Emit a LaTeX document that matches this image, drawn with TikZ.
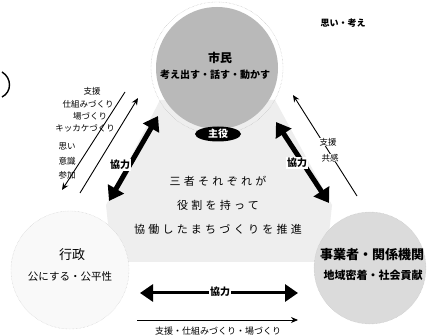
\documentclass[tikz,border=0pt]{standalone}
\usepackage{fontspec}
\newfontfamily\jp{Noto Sans CJK JP}
\newfontfamily\jpsp[LetterSpace=30]{Noto Sans CJK JP}
\usetikzlibrary{arrows.meta,shapes.geometric}
\begin{document}
\begin{tikzpicture}[x=1pt,y=-1pt,font=\jp,
  bigarrow/.style={line width=5pt,{Triangle[width=18pt,length=14pt]}-{Triangle[width=18pt,length=14pt]}},
  flatarrow/.style={line width=3pt,{Triangle[width=17pt,length=13pt]}-{Triangle[width=17pt,length=13pt]}},
  thinarrow/.style={line width=0.9pt,-{Stealth[width=6pt,length=7pt]}},
  small/.style={font=\jp\fontsize{8.5}{9}\selectfont,inner sep=0.5pt},
  coop/.style={font=\jp\bfseries\fontsize{10}{11}\selectfont,inner sep=1pt,fill=white},
  center/.style={font=\jpsp\fontsize{11}{12}\selectfont,inner sep=1pt}]
\useasboundingbox (0,0) rectangle (428,336);
\fill[white] (0,0) rectangle (428,336);
% shaded central region
\fill[gray!13] (160,100) -- (275,100) -- (332,205) -- (326,262) -- (112,262) -- (106,205) -- cycle;
% circles
\node[circle,draw=gray!60,densely dotted,minimum size=132pt] (shimring) at (217,68) {};
\node[circle,fill=gray!55,minimum size=122pt] (shimin) at (217,68) {};
\node[circle,draw=gray!45,densely dotted,fill=gray!5,minimum size=118pt] (gyosei) at (70,270) {};
\node[circle,draw=gray!50,densely dotted,fill=gray!28,minimum size=112pt] (jigyo) at (370,268) {};
% circle texts
\node[font=\jp\bfseries\fontsize{12}{13}\selectfont] (t1) at (220,58) {市民};
\node[font=\jp\bfseries\fontsize{10}{11}\selectfont] (t2) at (215,75) {考え出す・話す・動かす};
\node[ellipse,fill=black,minimum width=46pt,minimum height=15pt,inner sep=0pt,text=white,font=\jp\bfseries\fontsize{10}{11}\selectfont] (shuyaku) at (218,134) {主役};
\node[font=\jp\fontsize{13}{14}\selectfont] (g1) at (72,255) {行政};
\node[font=\jp\fontsize{10.5}{11}\selectfont] (g2) at (70,277) {公にする・公平性};
\node[font=\jp\bfseries\fontsize{13}{14}\selectfont] (j1) at (372,255) {事業者・関係機関};
\node[font=\jp\bfseries\fontsize{11}{12}\selectfont] (j2) at (373,275) {地域密着・社会貢献};
% top right
\node[font=\jp\bfseries\fontsize{9}{10}\selectfont] (omoi) at (343,23) {思い・考え};
% center text
\node[center] (c1) at (218,181) {三者それぞれが};
\node[center] (c2) at (218,205) {役割を持って};
\node[center] (c3) at (218,229) {協働したまちづくりを推進};
% thick arrows
\coordinate (la) at (158,116);
\coordinate (lb) at (109,201);
\coordinate (ra) at (276,122);
\coordinate (rb) at (329,203);
\coordinate (ba) at (140,293);
\coordinate (bb) at (298,293);
\draw[bigarrow] (lb) -- (la);
\draw[bigarrow] (ra) -- (rb);
\draw[flatarrow] (ba) -- (bb);
\node[coop] (k1) at (120,165) {協力};
\node[coop] (k2) at (297,163) {協力};
\node[coop] (k3) at (220,292) {協力};
% thin arrows
\coordinate (ua) at (80,193);
\coordinate (ub) at (138,98);
\coordinate (da) at (125,92);
\coordinate (db) at (62,190);
\coordinate (sa) at (357,196);
\coordinate (sb) at (293,95);
\coordinate (ha) at (137,320);
\coordinate (hb) at (298,320);
\draw[thinarrow] (ua) -- (ub);
\draw[thinarrow] (da) -- (db);
\draw[thinarrow] (sa) -- (sb);
\draw[thinarrow] (ha) -- (hb);
% left labels
\node[small] (l1) at (92,91) {支援};
\node[small] (l2) at (88,104) {仕組みづくり};
\node[small] (l3) at (90,116) {場づくり};
\node[small] (l4) at (85,128) {キッカケづくり};
\node[small] (l5) at (67,146) {思い};
\node[small] (l6) at (67,161) {意識};
\node[small] (l7) at (67,175) {参加};
% right labels
\node[small,fill=white] (r1) at (328,142) {支援};
\node[small,fill=white] (r2) at (330,158) {共感};
% bottom label
\node[small,font=\jp\fontsize{9}{10}\selectfont] (bl) at (218,331) {支援・仕組みづくり・場づくり};
% parenthesis at left
\draw[line width=1.4pt] (2,72) .. controls (12,78) and (12,92) .. (2,97);
\end{tikzpicture}
\end{document}
